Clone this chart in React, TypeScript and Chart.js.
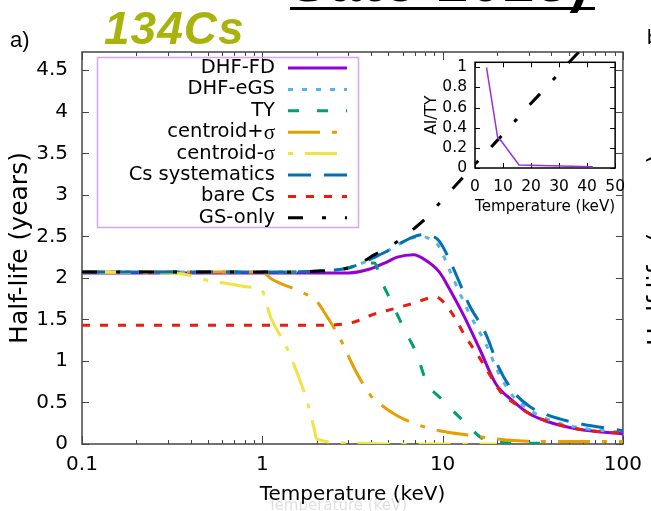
import React, { useEffect, useRef } from 'react';
import { Chart, registerables } from 'chart.js';

Chart.register(...registerables);

const FONT = '"DejaVu Sans", sans-serif';

// ---------- data ----------
const xTickValues = [0.1, 1, 10, 100];
const xTickLabels = ['0.1', '1', '10', '100'];
const yTickValues = [0, 0.5, 1, 1.5, 2, 2.5, 3, 3.5, 4, 4.5];
const yTickLabels = ['0', '0.5', '1', '1.5', '2', '2.5', '3', '3.5', '4', '4.5'];

const seriesLabels = ['DHF-FD', 'DHF-eGS', 'TY', 'centroid+σ', 'centroid-σ', 'Cs systematics', 'bare Cs', 'GS-only'];

const dhfFdT = [0.1, 1, 2, 3, 4, 5, 5.6, 6.9, 8.1, 9.6, 10.9, 13, 16, 19.8, 24.5, 30, 37, 56, 100];
const dhfFdHL = [2.06, 2.06, 2.06, 2.06, 2.11, 2.2, 2.25, 2.28, 2.21, 2.07, 1.87, 1.56, 1.15, 0.72, 0.52, 0.37, 0.28, 0.18, 0.12];

const dhfEgsT = [0.1, 1, 2, 3, 3.5, 4.2, 5, 6, 7, 7.6, 8.3, 9.4, 11.3, 14, 17.4, 20.6, 24.5, 30, 37, 56, 100];
const dhfEgsHL = [2.07, 2.07, 2.08, 2.12, 2.17, 2.25, 2.33, 2.43, 2.49, 2.5, 2.48, 2.4, 2.02, 1.58, 1.2, 0.84, 0.58, 0.42, 0.31, 0.2, 0.14];

const tyT = [0.1, 1, 2, 3, 3.5, 4.2, 4.5, 5.1, 6.1, 7.2, 8.1, 10.1, 13, 17.4, 20, 30, 40];
const tyHL = [2.07, 2.07, 2.08, 2.12, 2.17, 2.18, 2.0, 1.75, 1.39, 1.08, 0.76, 0.52, 0.28, 0.04, 0.02, 0.01, 0.01];

const centPlusT = [0.1, 1, 1.12, 1.64, 2, 2.2, 2.7, 3.24, 4, 4.5, 5.6, 6.9, 9.6, 14.7, 19.8, 26, 40, 100];
const centPlusHL = [2.07, 2.07, 1.99, 1.83, 1.72, 1.59, 1.27, 0.91, 0.58, 0.48, 0.34, 0.25, 0.16, 0.1, 0.06, 0.04, 0.03, 0.03];

const centMinusT = [0.1, 0.35, 0.52, 0.65, 0.84, 0.98, 1.12, 1.34, 1.57, 1.79, 1.95, 2.0, 3.1, 5, 10, 20];
const centMinusHL = [2.07, 2.05, 1.96, 1.93, 1.89, 1.87, 1.51, 1.2, 0.84, 0.48, 0.16, 0.06, 0.01, 0.0, 0.0, 0.0];

const csSysT = [0.1, 1, 2, 3, 3.5, 4.2, 5, 6, 7, 7.8, 8.6, 9.6, 11.5, 14, 17.4, 20.6, 24.5, 30, 37, 56, 100];
const csSysHL = [2.07, 2.07, 2.08, 2.12, 2.17, 2.25, 2.33, 2.43, 2.5, 2.52, 2.51, 2.44, 2.11, 1.68, 1.32, 0.91, 0.64, 0.46, 0.36, 0.25, 0.16];

const bareCsT = [0.1, 1, 2, 2.97, 3.45, 4, 5.4, 7, 8.5, 9.2, 10, 12, 13, 16, 21.5, 25, 30, 40, 60, 100];
const bareCsHL = [1.43, 1.43, 1.43, 1.45, 1.49, 1.55, 1.63, 1.7, 1.76, 1.77, 1.72, 1.48, 1.34, 1.04, 0.6, 0.49, 0.37, 0.26, 0.17, 0.13];

const gsOnlyT = [0.1, 1, 2, 3, 3.5, 4.2, 5, 6, 7, 8, 9, 10, 12, 15, 20, 25, 30, 40, 50, 60];
const gsOnlyHL = [2.07, 2.07, 2.08, 2.12, 2.18, 2.28, 2.37, 2.48, 2.6, 2.71, 2.83, 2.94, 3.13, 3.36, 3.65, 3.88, 4.07, 4.36, 4.59, 4.77];

const seriesT = [dhfFdT, dhfEgsT, tyT, centPlusT, centMinusT, csSysT, bareCsT, gsOnlyT];
const seriesHL = [dhfFdHL, dhfEgsHL, tyHL, centPlusHL, centMinusHL, csSysHL, bareCsHL, gsOnlyHL];

const insetXTickValues = [0, 10, 20, 30, 40, 50];
const insetXTickLabels = ['0', '10', '20', '30', '40', '50'];
const insetYTickValues = [0, 0.2, 0.4, 0.6, 0.8, 1];
const insetYTickLabels = ['0', '0.2', '0.4', '0.6', '0.8', '1'];
const insetT = [4.1, 8.1, 9.3, 15.7, 42];
const insetRatio = [1.0, 0.3, 0.27, 0.03, 0.012];

// ---------- styles ----------
const seriesColors = ['#9400d3', '#56b4e9', '#009e73', '#e69f00', '#f0e442', '#0072b2', '#e51e10', '#000000'];
const seriesDash: number[][] = [[], [5, 9], [11, 18], [32, 12, 5, 12], [32, 12, 5, 12], [23, 13], [8, 10], [15, 19, 4, 19]];
const seriesDashOffset = [0, 0, 0, 0, 44, 0, 0, 0];

const mainFramePlugin = {
  id: 'mainFrame',
  beforeDatasetsDraw(chart: any) {
    const { ctx, chartArea: a, scales } = chart;
    const x = scales.x;
    const y = scales.y;
    ctx.save();
    ctx.strokeStyle = '#454545';
    ctx.lineWidth = 1.5;
    ctx.strokeRect(a.left, a.top, a.right - a.left, a.bottom - a.top);
    ctx.lineWidth = 1;
    ctx.beginPath();
    for (const d of [0.1, 1, 10]) {
      for (let m = 1; m <= 10; m++) {
        const v = d * m;
        const px = Math.round(x.getPixelForValue(v)) + 0.5;
        const len = m === 1 || m === 10 ? 8 : 4;
        ctx.moveTo(px, a.bottom);
        ctx.lineTo(px, a.bottom - len);
        ctx.moveTo(px, a.top);
        ctx.lineTo(px, a.top + len);
      }
    }
    for (const v of yTickValues) {
      const py = Math.round(y.getPixelForValue(v)) + 0.5;
      ctx.moveTo(a.left, py);
      ctx.lineTo(a.left + 7, py);
      ctx.moveTo(a.right, py);
      ctx.lineTo(a.right - 7, py);
    }
    ctx.stroke();
    ctx.restore();
  },
};

const legendPlugin = {
  id: 'boxLegend',
  afterDraw(chart: any) {
    const ctx = chart.ctx;
    ctx.save();
    ctx.strokeStyle = '#d9a4f0';
    ctx.lineWidth = 1.5;
    ctx.strokeRect(97.5, 57.5, 261, 170);
    chart.data.datasets.forEach((ds: any, i: number) => {
      const yy = 68 + i * 21.4;
      const textRight = 275;
      ctx.fillStyle = '#000';
      ctx.textAlign = 'right';
      ctx.textBaseline = 'middle';
      const label: string = ds.label;
      if (label.endsWith('σ')) {
        ctx.font = '21px "Liberation Serif", serif';
        const w = ctx.measureText('σ').width;
        ctx.fillText('σ', textRight, yy + 1);
        ctx.font = `19.5px ${FONT}`;
        ctx.fillText(label.slice(0, -1), textRight - w, yy);
      } else {
        ctx.font = `19.5px ${FONT}`;
        ctx.fillText(label, textRight, yy);
      }
      ctx.beginPath();
      ctx.setLineDash(ds.borderDash || []);
      ctx.lineDashOffset = ds.borderDashOffset || 0;
      ctx.strokeStyle = ds.borderColor;
      ctx.lineWidth = 3;
      ctx.moveTo(288, yy);
      ctx.lineTo(347, yy);
      ctx.stroke();
    });
    ctx.restore();
  },
};

const insetFramePlugin = {
  id: 'insetFrame',
  beforeDatasetsDraw(chart: any) {
    const { ctx, chartArea: a, scales } = chart;
    ctx.save();
    ctx.strokeStyle = '#000';
    ctx.lineWidth = 1.5;
    ctx.strokeRect(a.left, a.top, a.right - a.left, a.bottom - a.top);
    ctx.lineWidth = 1;
    ctx.beginPath();
    for (const v of insetXTickValues) {
      const px = Math.round(scales.x.getPixelForValue(v)) + 0.5;
      ctx.moveTo(px, a.bottom);
      ctx.lineTo(px, a.bottom - 5);
      ctx.moveTo(px, a.top);
      ctx.lineTo(px, a.top + 5);
    }
    for (const v of insetYTickValues) {
      const py = Math.round(scales.y.getPixelForValue(v)) + 0.5;
      ctx.moveTo(a.left, py);
      ctx.lineTo(a.left + 5, py);
      ctx.moveTo(a.right, py);
      ctx.lineTo(a.right - 5, py);
    }
    ctx.stroke();
    ctx.restore();
  },
};

export default function App() {
  const mainRef = useRef<HTMLCanvasElement>(null);
  const insetRef = useRef<HTMLCanvasElement>(null);

  useEffect(() => {
    const datasets = seriesLabels.map((label, i) => ({
      label,
      data: seriesT[i].map((t, k) => ({ x: t, y: seriesHL[i][k] })),
      borderColor: seriesColors[i],
      backgroundColor: seriesColors[i],
      borderWidth: 3,
      borderDash: seriesDash[i],
      borderDashOffset: seriesDashOffset[i],
      pointRadius: 0,
      fill: false,
      cubicInterpolationMode: 'monotone' as const,
      order: seriesLabels.length - i,
    }));

    const main = new Chart(mainRef.current!, {
      type: 'line',
      data: { datasets },
      options: {
        responsive: false,
        animation: false,
        layout: { padding: { left: 0, top: 52, right: 24, bottom: 0 } },
        plugins: { legend: { display: false }, tooltip: { enabled: false } },
        scales: {
          x: {
            type: 'logarithmic',
            min: 0.1,
            max: 100,
            afterBuildTicks: (s: any) => {
              s.ticks = xTickValues.map((v) => ({ value: v }));
            },
            afterFit: (s: any) => {
              s.height = 67;
            },
            ticks: {
              callback: (_v: any, i: number) => xTickLabels[i],
              font: { family: FONT, size: 20 },
              color: '#000',
              padding: 9,
              maxRotation: 0,
              autoSkip: false,
            },
            grid: { display: false, drawTicks: false },
            border: { display: false },
            title: {
              display: true,
              text: 'Temperature (keV)',
              font: { family: FONT, size: 20 },
              color: '#000',
              padding: { top: 0, bottom: 4 },
            },
          },
          y: {
            type: 'linear',
            min: 0,
            max: 4.72,
            afterBuildTicks: (s: any) => {
              s.ticks = yTickValues.map((v) => ({ value: v }));
            },
            afterFit: (s: any) => {
              s.width = 82;
            },
            ticks: {
              callback: (_v: any, i: number) => yTickLabels[i],
              font: { family: FONT, size: 20 },
              color: '#000',
              padding: 14,
              autoSkip: false,
            },
            grid: { display: false, drawTicks: false },
            border: { display: false },
            title: {
              display: true,
              text: 'Half-life (years)',
              font: { family: FONT, size: 25 },
              color: '#000',
              padding: { top: 5, bottom: 0 },
            },
          },
        },
      },
      plugins: [mainFramePlugin, legendPlugin],
    } as any);

    const inset = new Chart(insetRef.current!, {
      type: 'line',
      data: {
        datasets: [
          {
            label: 'AI/TY',
            data: insetT.map((t, k) => ({ x: t, y: insetRatio[k] })),
            borderColor: '#9b30dc',
            borderWidth: 1.5,
            pointRadius: 0,
            fill: false,
            tension: 0,
          },
        ],
      },
      options: {
        responsive: false,
        animation: false,
        layout: { padding: { left: 0, top: 15, right: 17, bottom: 0 } },
        plugins: { legend: { display: false }, tooltip: { enabled: false } },
        scales: {
          x: {
            type: 'linear',
            min: 0,
            max: 50,
            afterBuildTicks: (s: any) => {
              s.ticks = insetXTickValues.map((v) => ({ value: v }));
            },
            afterFit: (s: any) => {
              s.height = 52;
            },
            ticks: {
              callback: (_v: any, i: number) => insetXTickLabels[i],
              font: { family: FONT, size: 15.5 },
              color: '#000',
              padding: 10,
              maxRotation: 0,
              autoSkip: false,
            },
            grid: { display: false, drawTicks: false },
            border: { display: false },
            title: {
              display: true,
              text: 'Temperature (keV)',
              font: { family: FONT, size: 15.5 },
              color: '#000',
              padding: { top: 0, bottom: 4 },
            },
          },
          y: {
            type: 'linear',
            min: 0,
            max: 1.05,
            afterBuildTicks: (s: any) => {
              s.ticks = insetYTickValues.map((v) => ({ value: v }));
            },
            afterFit: (s: any) => {
              s.width = 55;
            },
            ticks: {
              callback: (_v: any, i: number) => insetYTickLabels[i],
              font: { family: FONT, size: 15.5 },
              color: '#000',
              padding: 8,
              autoSkip: false,
            },
            grid: { display: false, drawTicks: false },
            border: { display: false },
            title: {
              display: true,
              text: 'AI/TY',
              font: { family: FONT, size: 15.5 },
              color: '#000',
              padding: { top: 3, bottom: 0 },
            },
          },
        },
      },
      plugins: [insetFramePlugin],
    } as any);

    return () => {
      main.destroy();
      inset.destroy();
    };
  }, []);

  return (
    <div
      style={{
        position: 'absolute',
        left: 0,
        top: 0,
        width: 651,
        height: 511,
        overflow: 'hidden',
        background: '#fff',
        fontFamily: FONT,
      }}
    >
      <canvas ref={mainRef} width={651} height={511} style={{ position: 'absolute', left: 0, top: 0, width: 651, height: 511 }} />
      <canvas ref={insetRef} width={215} height={175} style={{ position: 'absolute', left: 420, top: 45, width: 215, height: 175 }} />
      <div style={{ position: 'absolute', left: 10, top: 27, fontSize: 22, lineHeight: '26px', color: '#000', fontFamily: '"Liberation Sans", sans-serif' }}>a)</div>
      <div
        style={{
          position: 'absolute',
          left: 104,
          top: 3,
          fontSize: 46,
          lineHeight: '50px',
          fontWeight: 'bold',
          fontStyle: 'italic',
          letterSpacing: 1,
          color: '#a8b40c',
          fontFamily: '"Liberation Sans", sans-serif',
        }}
      >
        134Cs
      </div>
      <div
        style={{
          position: 'absolute',
          left: 290,
          top: -46,
          fontSize: 56,
          lineHeight: '56px',
          fontWeight: 'bold',
          color: '#000',
          letterSpacing: 2,
          whiteSpace: 'nowrap',
          fontFamily: '"Liberation Sans", sans-serif',
        }}
      >
        Sato 2023)
      </div>
      <div style={{ position: 'absolute', left: 290, top: 7, width: 305, height: 3, background: '#000' }} />
      <div style={{ position: 'absolute', left: 647, top: 25, fontSize: 20, lineHeight: '24px', color: '#000', fontFamily: '"Liberation Sans", sans-serif' }}>b)</div>
      <div
        style={{
          position: 'absolute',
          left: 657 - 130,
          top: 250 - 15,
          width: 260,
          height: 30,
          lineHeight: '30px',
          fontSize: 25,
          textAlign: 'center',
          transform: 'rotate(-90deg)',
          color: '#000',
          whiteSpace: 'nowrap',
        }}
      >
        Half-life (years)
      </div>
      <div style={{ position: 'absolute', left: 268, top: 496, fontSize: 15, color: 'rgba(0,0,0,0.13)', whiteSpace: 'nowrap' }}>
        Temperature (keV)
      </div>
    </div>
  );
}
